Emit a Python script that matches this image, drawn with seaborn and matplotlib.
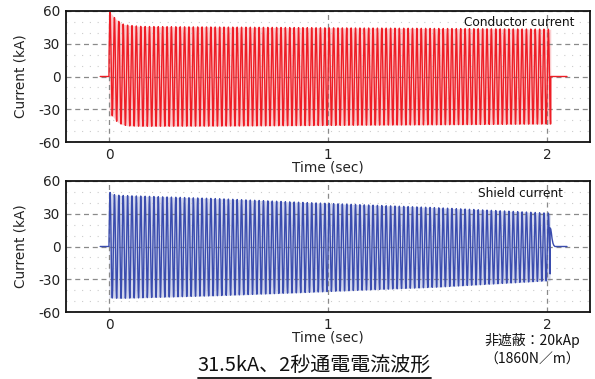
import numpy as np
import pandas as pd
import matplotlib
matplotlib.use("Agg")
import matplotlib.pyplot as plt
import seaborn as sns
from matplotlib.lines import Line2D

# ---------------- data ----------------
freq_hz = 50.0            # mains frequency of the test current
lead_start = -0.04        # flat zero line before energising (sec)
cond_off = 2.016          # conductor current switched off (sec)
shield_off = 2.013        # shield oscillation end (sec)
trail_end = 2.09          # flat zero line end (sec)

# conductor current: upper / lower peak envelope (kA)
cond_env_t = [0.0, 0.005, 0.015, 0.025, 0.035, 0.045, 0.055, 0.065, 0.085, 0.15, 0.5, 1.0, 1.5, 2.016]
cond_upper = [59, 59, 56.5, 54, 52, 50.5, 49, 48, 47, 45.8, 45.3, 44.6, 44.0, 43.3]
cond_lower = [-36, -36, -36, -38.5, -41, -42.5, -43.5, -44.3, -45.2, -45.6, -45.4, -44.8, -44.2, -43.5]

# shield current: upper / lower peak envelope (kA)
shield_env_t = [0.0, 0.005, 0.025, 0.05, 0.5, 0.87, 1.5, 2.013]
shield_upper = [49.5, 49.5, 47.5, 46.8, 43.8, 40.5, 35.5, 30.5]
shield_lower = [-47.0, -47.0, -47.3, -47.5, -45.0, -42.3, -37.2, -31.3]

# shield current decay after switch-off (kA)
shield_tail_t = [2.013, 2.016, 2.019, 2.022, 2.026, 2.030, 2.035, 2.09]
shield_tail_i = [17, 16, 12, 7, 3, 1, 0, 0]

y_ticks = [-60, -30, 0, 30, 60]
y_minor = [-50, -40, -20, -10, 10, 20, 40, 50]
x_ticks = [0, 1, 2]
x_tick_labels = ["0", "1", "2"]
panel_labels = ["Conductor current", "Shield current"]
x_label = "Time (sec)"
y_label = "Current (kA)"
caption = "31.5kA、2秒通電電流波形"
note_lines = ["非遮蔽：20kAp", "（1860N／m）"]

RED = "#ee1d25"
BLUE = "#3a4cae"


def ac_wave(t_end, env_t, upper, lower):
    t = np.arange(0.0, t_end, 1.0 / 20000.0)
    up = np.interp(t, env_t, upper)
    lo = np.interp(t, env_t, lower)
    mid = (up + lo) / 2.0
    half = (up - lo) / 2.0
    return t, mid + half * np.sin(2 * np.pi * freq_hz * t), up, lo


t_c, i_c, up_c, lo_c = ac_wave(cond_off, cond_env_t, cond_upper, cond_lower)
cond_df = pd.DataFrame({
    "t": np.concatenate([[lead_start, 0.0], t_c, [cond_off, trail_end]]),
    "i": np.concatenate([[0.0, 0.0], i_c, [0.0, 0.0]]),
})

t_s, i_s, up_s, lo_s = ac_wave(shield_off, shield_env_t, shield_upper, shield_lower)
shield_df = pd.DataFrame({
    "t": np.concatenate([[lead_start, 0.0], t_s, shield_tail_t]),
    "i": np.concatenate([[0.0, 0.0], i_s, shield_tail_i]),
})

# ---------------- figure ----------------
sns.set_style("white")
plt.rcParams["font.family"] = ["DejaVu Sans"]
plt.rcParams["axes.unicode_minus"] = False

W, H = 595, 379
fig = plt.figure(figsize=(W / 100, H / 100), dpi=100)

ax_left = 66 / W
ax_w = (590 - 66) / W
ax_h = 131 / H
ax_top = fig.add_axes([ax_left, 1 - 142 / H, ax_w, ax_h])
ax_bot = fig.add_axes([ax_left, 1 - 312 / H, ax_w, ax_h])

for ax, df, col, lab, lab_x, lab_y, tt, uu, ll in [
    (ax_top, cond_df, RED, panel_labels[0], 0.971, 0.915, t_c, up_c, lo_c),
    (ax_bot, shield_df, BLUE, panel_labels[1], 0.948, 0.906, t_s, up_s, lo_s),
]:
    # faint haze between the dense oscillation strokes
    ax.fill_between(tt, ll, uu, color=col, alpha=0.22, linewidth=0, zorder=2)
    sns.lineplot(data=df, x="t", y="i", ax=ax, color=col, linewidth=1.0,
                 estimator=None, sort=False, zorder=3)
    ax.set_xlim(-0.196, 2.195)
    ax.set_ylim(-60, 60)
    ax.set_yticks(y_ticks)
    ax.set_yticklabels([str(v) for v in y_ticks])
    ax.set_yticks(y_minor, minor=True)
    ax.set_xticks(x_ticks)
    ax.set_xticklabels(x_tick_labels)
    ax.tick_params(axis="both", which="both", length=0, labelsize=9.8,
                   colors="#222222", pad=4)
    ax.grid(which="major", color="#8a8a8a", linestyle=(0, (4, 3)), linewidth=0.9, zorder=1)
    ax.grid(which="minor", axis="y", color="#cccccc", linestyle=(0, (1, 6)), linewidth=0.8, zorder=1)
    ax.set_axisbelow(False)
    for s in ax.spines.values():
        s.set_color("#111111")
        s.set_linewidth(1.3)
        s.set_zorder(5)
    ax.set_xlabel(x_label, fontsize=9.8, color="#222222")
    ax.set_ylabel(y_label, fontsize=9.8, color="#222222")
    ax.xaxis.set_label_coords(0.5, -0.145)
    ax.yaxis.set_label_coords(-0.073, 0.5)
    ax.text(lab_x, lab_y, lab, transform=ax.transAxes, ha="right", va="center",
            fontsize=8.7, color="#111111", zorder=6)

cjk = ["Noto Sans CJK JP", "DejaVu Sans"]
cap = fig.text(314.5 / W, 1 - 366 / H, caption, ha="center", va="center",
               fontsize=14.4, family=cjk, color="#111111")
fig.text(532 / W, 1 - 340.5 / H, note_lines[0], ha="center", va="center",
         fontsize=10, family=cjk, color="#111111")
fig.text(532 / W, 1 - 359.5 / H, note_lines[1], ha="center", va="center",
         fontsize=10, family=cjk, color="#111111")

# underline the caption using its rendered extent
renderer = fig.canvas.get_renderer()
bb = cap.get_window_extent(renderer)
uy = (bb.y0 - 1.0) / H
fig.add_artist(Line2D([bb.x0 / W, bb.x1 / W], [uy, uy], color="#111111",
                      linewidth=1.3, transform=fig.transFigure))

fig.savefig("out.png", dpi=100)
